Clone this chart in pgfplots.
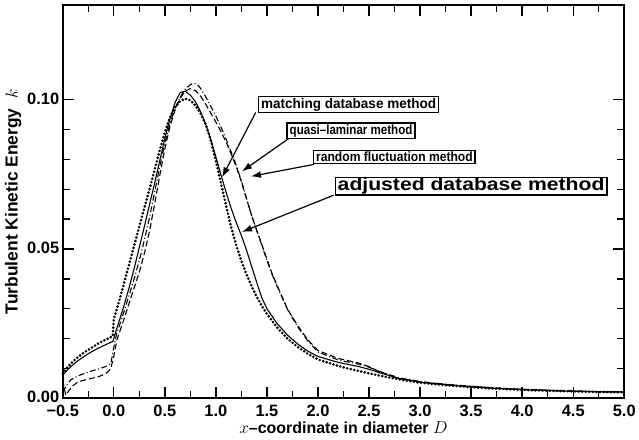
\documentclass[border=0pt]{standalone}
\usepackage{pgfplots}
\pgfplotsset{compat=1.18}
\usepackage{pgfplotstable}
\usepackage{fontspec}
\setmainfont{Liberation Sans}
\usetikzlibrary{arrows.meta}

% matching database method (dotted)
\pgfplotstableread{
x y
-0.5 0.0083
-0.45 0.0105
-0.4 0.0123
-0.35 0.0138
-0.3 0.0151
-0.25 0.0162
-0.2 0.0173
-0.15 0.0184
-0.1 0.0193
-0.05 0.0201
-0.01 0.0208
0.0 0.0265
0.05 0.0322
0.1 0.0385
0.15 0.0448
0.2 0.0512
0.25 0.0575
0.3 0.0638
0.35 0.0700
0.4 0.0765
0.45 0.0830
0.5 0.0890
0.55 0.0940
0.6 0.0975
0.65 0.0995
0.7 0.1003
0.75 0.0998
0.8 0.0980
0.85 0.0954
0.9 0.0918
0.95 0.0864
1.0 0.0795
1.05 0.0720
1.1 0.0645
1.15 0.0572
1.2 0.0512
1.25 0.0460
1.3 0.0415
1.35 0.0375
1.4 0.0340
1.45 0.0309
1.5 0.0282
1.6 0.0237
1.7 0.0200
1.8 0.0172
1.9 0.0149
2.0 0.0130
2.2 0.0108
2.4 0.0091
2.6 0.0076
2.8 0.0063
3.0 0.0052
3.25 0.0044
3.5 0.0037
3.75 0.0032
4.0 0.0028
4.25 0.0025
4.5 0.0023
4.75 0.0021
5.0 0.0020
}\matching

% adjusted database method (solid)
\pgfplotstableread{
x y
-0.5 0.0078
-0.45 0.0096
-0.4 0.0112
-0.35 0.0126
-0.3 0.0138
-0.25 0.0149
-0.2 0.0159
-0.15 0.0168
-0.1 0.0176
-0.05 0.0184
-0.01 0.0190
0.0 0.0200
0.03 0.0235
0.05 0.0255
0.1 0.0310
0.15 0.0370
0.2 0.0435
0.25 0.0505
0.3 0.0575
0.35 0.0648
0.4 0.0720
0.45 0.0795
0.5 0.0870
0.55 0.0935
0.6 0.0990
0.65 0.1024
0.7 0.1028
0.75 0.1015
0.8 0.0993
0.85 0.0960
0.9 0.0918
0.95 0.0866
1.0 0.0808
1.05 0.0748
1.1 0.0690
1.15 0.0636
1.2 0.0588
1.25 0.0545
1.3 0.0496
1.35 0.0442
1.4 0.0388
1.45 0.0336
1.5 0.0300
1.6 0.0250
1.7 0.0212
1.8 0.0182
1.9 0.0158
2.0 0.0140
2.2 0.0120
2.3 0.0113
2.4 0.0106
2.5 0.0097
2.6 0.0086
2.8 0.0066
3.0 0.0054
3.25 0.0045
3.5 0.0038
3.75 0.0033
4.0 0.0029
4.25 0.0026
4.5 0.0023
4.75 0.0022
5.0 0.0021
}\adjusted

% quasi-laminar method (dash-dot)
\pgfplotstableread{
x y
-0.5 0.0020
-0.47 0.0040
-0.42 0.0062
-0.35 0.0075
-0.25 0.0088
-0.15 0.0098
-0.08 0.0106
-0.03 0.0115
0.0 0.0170
0.03 0.0220
0.05 0.0238
0.1 0.0290
0.15 0.0345
0.2 0.0400
0.25 0.0462
0.3 0.0530
0.35 0.0605
0.4 0.0690
0.45 0.0775
0.5 0.0855
0.55 0.0920
0.6 0.0970
0.65 0.1008
0.7 0.1035
0.75 0.1050
0.78 0.1055
0.82 0.1050
0.85 0.1038
0.9 0.1010
0.95 0.0978
1.0 0.0945
1.05 0.0908
1.1 0.0868
1.15 0.0825
1.2 0.0780
1.25 0.0728
1.3 0.0670
1.35 0.0612
1.4 0.0562
1.45 0.0512
1.5 0.0462
1.55 0.0415
1.6 0.0375
1.7 0.0298
1.8 0.0240
1.9 0.0192
2.0 0.0155
2.2 0.0128
2.4 0.0114
2.5 0.0104
2.6 0.0090
2.8 0.0068
3.0 0.0056
3.25 0.0047
3.5 0.0040
3.75 0.0034
4.0 0.0030
4.25 0.0027
4.5 0.0024
4.75 0.0022
5.0 0.0021
}\quasi

% random fluctuation method (dashed)
\pgfplotstableread{
x y
-0.5 0.0060
-0.47 0.0010
-0.44 0.0025
-0.4 0.0042
-0.35 0.0055
-0.25 0.0064
-0.15 0.0072
-0.08 0.0082
-0.03 0.0098
0.0 0.0140
0.03 0.0195
0.05 0.0215
0.1 0.0265
0.15 0.0318
0.2 0.0370
0.25 0.0422
0.3 0.0485
0.35 0.0560
0.4 0.0650
0.45 0.0745
0.5 0.0835
0.55 0.0910
0.6 0.0965
0.65 0.1005
0.7 0.1028
0.75 0.1037
0.8 0.1030
0.85 0.1012
0.9 0.0985
0.95 0.0955
1.0 0.0925
1.05 0.0893
1.1 0.0858
1.15 0.0818
1.2 0.0775
1.25 0.0725
1.3 0.0668
1.35 0.0612
1.4 0.0563
1.45 0.0515
1.5 0.0466
1.55 0.0418
1.6 0.0378
1.7 0.0300
1.8 0.0244
1.9 0.0196
2.0 0.0160
2.2 0.0133
2.4 0.0118
2.5 0.0106
2.6 0.0089
2.8 0.0066
3.0 0.0055
3.25 0.0046
3.5 0.0040
3.75 0.0034
4.0 0.0030
4.25 0.0027
4.5 0.0024
4.75 0.0022
5.0 0.0021
}\random

\begin{document}
\begin{tikzpicture}
\begin{axis}[
  scale only axis,
  width=564pt, height=395pt,
  xmin=-0.5, xmax=5, ymin=0, ymax=0.1317,
  xtick={-0.5,0,0.5,1,1.5,2,2.5,3,3.5,4,4.5,5},
  xticklabels={−0.5,0.0,0.5,1.0,1.5,2.0,2.5,3.0,3.5,4.0,4.5,5.0},
  minor x tick num=1,
  ytick={0,0.05,0.1},
  yticklabels={0.00,0.05,0.10},
  minor y tick num=4,
  tick align=inside,
  major tick length=11pt, minor tick length=7pt,
  tick style={line width=1.4pt, black},
  axis line style={line width=1.8pt},
  tick label style={font=\bfseries\fontsize{16.5}{16.5}\selectfont},
  xticklabel style={yshift=-3.5pt},
  yticklabel style={xshift=0pt, yshift=1pt},
  xlabel={$x$\textbf{–coordinate in diameter} $D$},
  ylabel={\textbf{Turbulent Kinetic Energy}\hspace{10pt}{\fontsize{19}{19}\selectfont$k$}},
  label style={font=\bfseries\fontsize{16}{16}\selectfont},
  xlabel style={yshift=2.5pt},
  ylabel style={yshift=-1pt, font=\bfseries\fontsize{17.5}{17.5}\selectfont},
  clip=false,
]
\addplot[black, line width=2.9pt, line cap=round, dash pattern=on 0pt off 3.6pt] table {\matching};
\addplot[black, line width=1.1pt] table {\adjusted};
\addplot[black, line width=1.1pt, dash pattern=on 6pt off 2.5pt on 1pt off 2.5pt] table {\quasi};
\addplot[black, line width=1.1pt, dash pattern=on 6pt off 3pt] table {\random};

\tikzset{lbl/.style={draw, fill=white, line width=1.5pt, inner xsep=2.5pt, inner ysep=1.5pt, font=\bfseries},
  arr/.style={line width=1.2pt, -{Latex[length=10pt,width=7pt]}}}
\draw[arr] (axis cs:1.39,0.0957) -- (axis cs:1.061,0.074);
\draw[arr] (axis cs:1.715,0.087) -- (axis cs:1.256,0.076);
\draw[arr] (axis cs:1.959,0.0783) -- (axis cs:1.344,0.0743);
\draw[arr] (axis cs:2.154,0.068) -- (axis cs:1.256,0.0557);
\node[lbl, font=\bfseries\fontsize{14}{14}\selectfont] at (axis cs:2.30,0.0983) {\scalebox{0.97}[1]{matching database method}};
\node[lbl, font=\bfseries\fontsize{13.5}{13.5}\selectfont] at (axis cs:2.324,0.0895) {\scalebox{0.86}[1]{quasi–laminar method}};
\node[lbl, font=\bfseries\fontsize{13.5}{13.5}\selectfont] at (axis cs:2.749,0.0808) {\scalebox{0.9}[1]{random fluctuation method}};
\node[lbl, inner ysep=0.5pt, font=\bfseries\fontsize{18}{18}\selectfont] at (axis cs:3.5,0.071) {\scalebox{1.18}[1]{adjusted database method}};
\end{axis}
\path (current axis.south west) ++(-63pt,-41pt) rectangle ++(639pt,441pt);
\end{tikzpicture}
\end{document}
